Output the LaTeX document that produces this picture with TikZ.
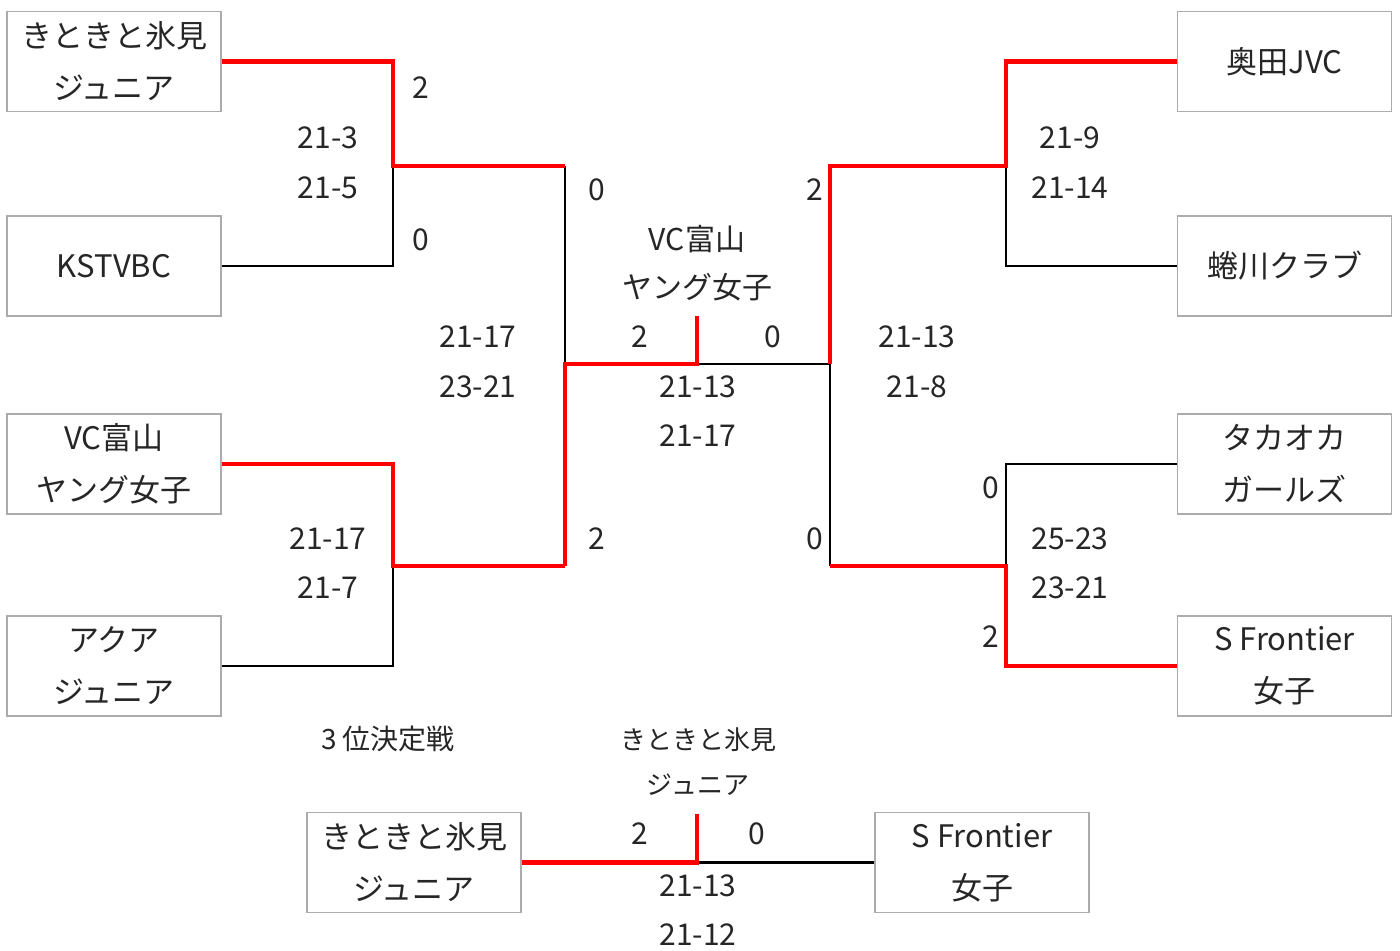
\documentclass[tikz,border=0pt]{standalone}
\usepackage{fontspec}
\setmainfont{Noto Sans CJK JP}
\begin{document}
\begin{tikzpicture}[x=0.5pt,y=-0.5pt,
  team/.style={draw=gray!65,line width=0.6pt,rectangle,inner sep=0pt,align=center,
    minimum width=107pt,minimum height=50pt,font=\fontsize{15.5}{26}\selectfont,text=black!85},
  lbl/.style={inner sep=0pt,font=\fontsize{15}{18}\selectfont,text=black!85},
  small/.style={inner sep=0pt,font=\fontsize{13}{16}\selectfont,text=black!85},
  win/.style={draw=red,line width=2.4pt,line join=miter},
  lose/.style={draw=black,line width=1.3pt,line join=miter}]
\useasboundingbox (0,0) rectangle (1400,950);
\fill[white] (0,0) rectangle (1400,950);
% teams left
\node[team] (L1) at (114,61.5) {きときと氷見\\ジュニア};
\node[team] (L2) at (114,266) {KSTVBC};
\node[team] (L3) at (114,464) {VC富山\\ヤング女子};
\node[team] (L4) at (114,666) {アクア\\ジュニア};
% teams right
\node[team] (R1) at (1284.5,61.5) {奥田JVC};
\node[team] (R2) at (1284.5,266) {蜷川クラブ};
\node[team] (R3) at (1284.5,464) {タカオカ\\ガールズ};
\node[team] (R4) at (1284.5,666) {S Frontier\\女子};
% bottom teams
\node[team] (B1) at (414,862.5) {きときと氷見\\ジュニア};
\node[team] (B2) at (982,862.5) {S Frontier\\女子};
% junctions
\coordinate (j1) at (393,166);
\coordinate (j2) at (393,566);
\coordinate (j3) at (565,364);
\coordinate (f) at (697,364);
\coordinate (ftop) at (697,316);
\coordinate (j4) at (830,364);
\coordinate (j5) at (1006,166);
\coordinate (j6) at (1006,566);
\coordinate (b) at (697,862.5);
\coordinate (btop) at (697,814);
% losers (black)
\draw[lose] (L2.east) -| (j1);
\draw[lose] (L4.east) -| (j2);
\draw[lose] (j1 -| j3) -- (j3);
\draw[lose] (f) -- (j4);
\draw[lose] (R2.west) -| (j5);
\draw[lose] (R3.west) -| (j6);
\draw[lose] (j4) -- (j4 |- j6);
\draw[lose] (b) -- (B2.west);
% winners (red)
\draw[win] (L1.east) -| (j1) -- (j1 -| j3);
\draw[win] (L3.east) -| (j2) -- (j2 -| j3);
\draw[win] (j2 -| j3) -- (j3) -- (f) -- (ftop);
\draw[win] (R1.west) -| (j5) -- (j5 -| j4) -- (j4);
\draw[win] (R4.west) -| (j6) -- (j6 -| j4);
\draw[win] (B1.east) -- (b) -- (btop);
% set counts
\node[lbl] (s1) at (421,88) {2};
\node[lbl] (s2) at (421,240) {0};
\node[lbl] (s3) at (597,190) {0};
\node[lbl] (s4) at (597,539) {2};
\node[lbl] (s5) at (640,337) {2};
\node[lbl] (s6) at (773,337) {0};
\node[lbl] (s7) at (815,190) {2};
\node[lbl] (s8) at (815,539) {0};
\node[lbl] (s9) at (991,488) {0};
\node[lbl] (s10) at (991,637) {2};
\node[lbl] (s11) at (640,834) {2};
\node[lbl] (s12) at (757,834) {0};
% scores
\node[lbl] (c1) at (328,138) {21-3};
\node[lbl] (c2) at (328,188) {21-5};
\node[lbl] (c3) at (328,539) {21-17};
\node[lbl] (c4) at (328,588) {21-7};
\node[lbl] (c5) at (478,337) {21-17};
\node[lbl] (c6) at (478,387) {23-21};
\node[lbl] (c7) at (698,387) {21-13};
\node[lbl] (c8) at (698,436) {21-17};
\node[lbl] (c9) at (917,337) {21-13};
\node[lbl] (c10) at (917,387) {21-8};
\node[lbl] (c11) at (1070,138) {21-9};
\node[lbl] (c12) at (1070,188) {21-14};
\node[lbl] (c13) at (1070,539) {25-23};
\node[lbl] (c14) at (1070,588) {23-21};
\node[lbl] (c15) at (698,886) {21-13};
\node[lbl] (c16) at (698,935) {21-12};
% champion
\node[lbl] (w1) at (697,239) {VC富山};
\node[lbl] (w2) at (697,287) {ヤング女子};
% third place
\node[lbl,font=\fontsize{14}{16}\selectfont] (t1) at (388,739) {3\,位決定戦};
\node[small] (t2) at (698,740) {きときと氷見};
\node[small] (t3) at (698,785) {ジュニア};
\end{tikzpicture}
\end{document}
